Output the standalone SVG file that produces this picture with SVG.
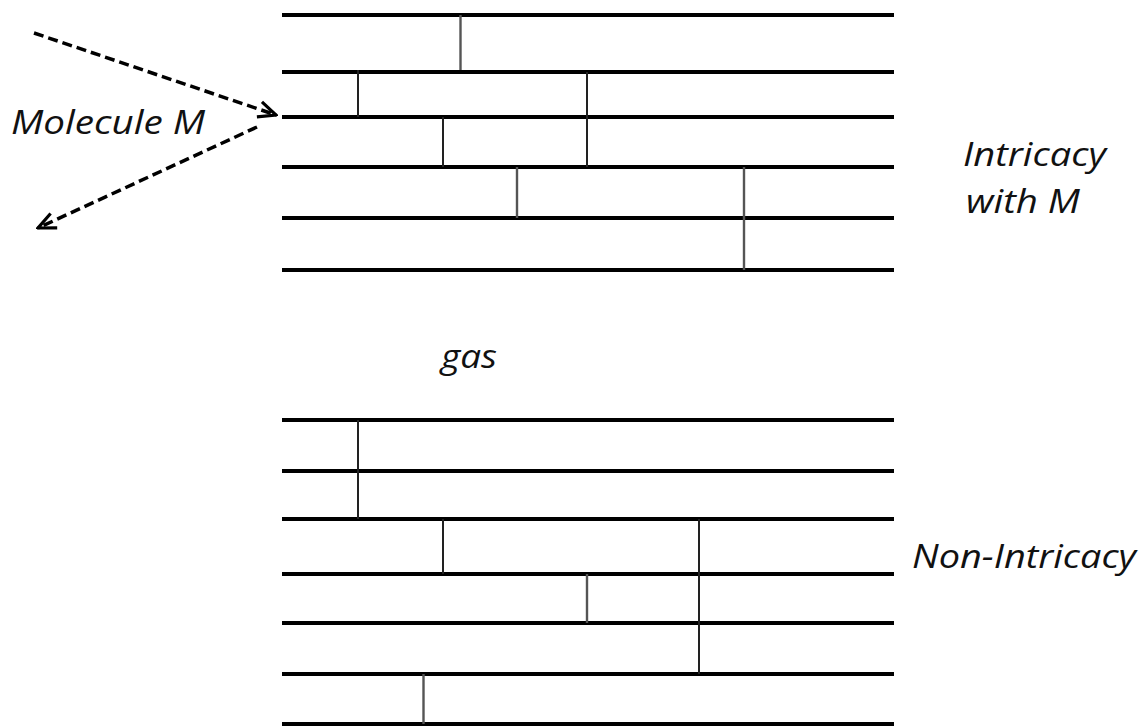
<svg xmlns="http://www.w3.org/2000/svg" width="1144" height="727" viewBox="0 0 1144 727">
<style>
.h{stroke:#000;stroke-width:4;fill:none}
.v{stroke:#222;stroke-width:2;fill:none}
.vg{stroke:#555;stroke-width:2.4;fill:none}
.d{stroke:#000;stroke-width:3.5;fill:none;stroke-dasharray:10 5}
.t{font-family:"Open Sans","Liberation Sans",sans-serif;font-style:italic;font-size:33px;fill:#111}
</style>
<defs>
<marker id="a" viewBox="0 0 12 12" refX="11" refY="6" markerWidth="6" markerHeight="6" orient="auto" markerUnits="strokeWidth">
<path d="M1 1.5 L11 6 L1 10.5" fill="none" stroke="#000" stroke-width="1.8"/>
</marker>
</defs>
<rect width="1144" height="727" fill="#fff"/>
<g id="intricacy-stack">
<line class="h" x1="282" y1="15" x2="894" y2="15"/>
<line class="h" x1="282" y1="72" x2="894" y2="72"/>
<line class="h" x1="282" y1="117" x2="894" y2="117"/>
<line class="h" x1="282" y1="167" x2="894" y2="167"/>
<line class="h" x1="282" y1="218" x2="894" y2="218"/>
<line class="h" x1="282" y1="270" x2="894" y2="270"/>
<line class="vg" x1="460.5" y1="15" x2="460.5" y2="70"/>
<line class="v" x1="358" y1="70" x2="358" y2="117"/>
<line class="v" x1="443" y1="117" x2="443" y2="167"/>
<line class="v" x1="587" y1="72" x2="587" y2="167"/>
<line class="vg" x1="517" y1="167" x2="517" y2="218"/>
<line class="vg" x1="744" y1="167" x2="744" y2="270"/>
</g>
<g id="non-intricacy-stack">
<line class="h" x1="282" y1="420" x2="894" y2="420"/>
<line class="h" x1="282" y1="471" x2="894" y2="471"/>
<line class="h" x1="282" y1="519" x2="894" y2="519"/>
<line class="h" x1="282" y1="574" x2="894" y2="574"/>
<line class="h" x1="282" y1="623" x2="894" y2="623"/>
<line class="h" x1="282" y1="674" x2="894" y2="674"/>
<line class="h" x1="282" y1="724" x2="894" y2="724"/>
<line class="v" x1="358" y1="420" x2="358" y2="519"/>
<line class="v" x1="443" y1="519" x2="443" y2="574"/>
<line class="vg" x1="587" y1="574" x2="587" y2="623"/>
<line class="v" x1="699" y1="519" x2="699" y2="674"/>
<line class="vg" x1="423.5" y1="674" x2="423.5" y2="724"/>
</g>
<g id="connectors">
<line class="d" x1="34" y1="33" x2="276" y2="115" marker-end="url(#a)"/>
<line class="d" x1="257" y1="127" x2="38" y2="228" marker-end="url(#a)"/>
</g>
<g id="labels">
<text class="t" x="11" y="134" textLength="194" lengthAdjust="spacingAndGlyphs">Molecule M</text>
<text class="t" x="963" y="166" textLength="143" lengthAdjust="spacingAndGlyphs">Intricacy</text>
<text class="t" x="966" y="213" textLength="114" lengthAdjust="spacingAndGlyphs">with M</text>
<text class="t" x="441" y="368" textLength="56" lengthAdjust="spacingAndGlyphs">gas</text>
<text class="t" x="912" y="568" textLength="224" lengthAdjust="spacingAndGlyphs">Non-Intricacy</text>
</g>
</svg>
